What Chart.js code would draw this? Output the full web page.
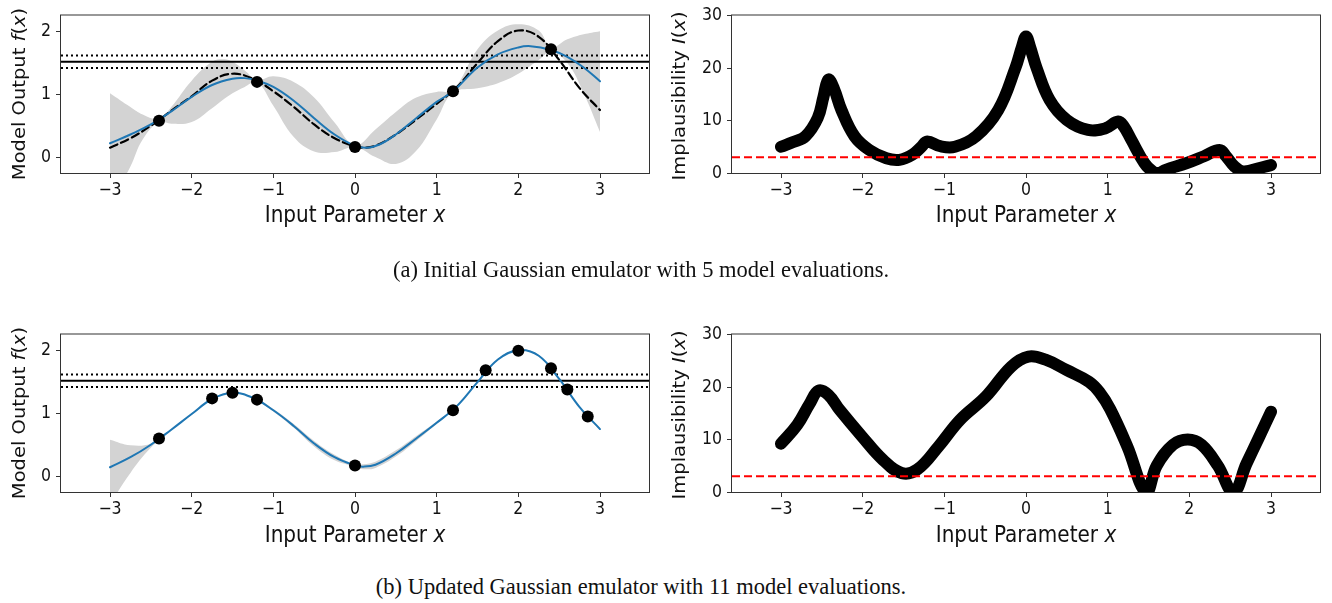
<!DOCTYPE html>
<html>
<head>
<meta charset="utf-8">
<script src="https://cdn.jsdelivr.net/npm/chart.js@4.4.1/dist/chart.umd.min.js"></script>
<style>
  body { margin: 0; background: #fff; }
  #page { position: relative; width: 1332px; height: 603px; overflow: hidden; }
  canvas { position: absolute; }
  .xt, .yt, .cap { position: absolute; white-space: nowrap; color: #111; }
  .xt { font: 23px 'DejaVu Sans'; transform: translate(-50%, -50%) scaleX(0.87); }
  .yt { font: 19.5px 'DejaVu Sans'; transform: translate(-50%, -50%) rotate(-90deg) scaleY(0.87); }
  .cap { font: 22.5px 'Liberation Serif'; transform: translate(-50%, -50%); }
  i { font-style: italic; }
</style>
</head>
<body>
<div id="page">
  <canvas id="tl" width="660" height="240" style="left:0;top:0"></canvas>
  <canvas id="tr" width="672" height="240" style="left:660px;top:0"></canvas>
  <canvas id="bl" width="660" height="240" style="left:0;top:319px"></canvas>
  <canvas id="br" width="672" height="240" style="left:660px;top:319px"></canvas>

  <div class="xt" style="left:355px;top:214px">Input Parameter <i>x</i></div>
  <div class="xt" style="left:1026px;top:214px">Input Parameter <i>x</i></div>
  <div class="xt" style="left:355px;top:534px">Input Parameter <i>x</i></div>
  <div class="xt" style="left:1026px;top:534px">Input Parameter <i>x</i></div>
  <div class="yt" style="left:19px;top:94px">Model Output <i>f</i>(<i>x</i>)</div>
  <div class="yt" style="left:679px;top:96px">Implausibility <i>I</i>(<i>x</i>)</div>
  <div class="yt" style="left:19px;top:413px">Model Output <i>f</i>(<i>x</i>)</div>
  <div class="yt" style="left:679px;top:415px">Implausibility <i>I</i>(<i>x</i>)</div>

  <div class="cap" style="left:641px;top:270px">(a) Initial Gaussian emulator with 5 model evaluations.</div>
  <div class="cap" style="left:641px;top:587px">(b) Updated Gaussian emulator with 11 model evaluations.</div>
</div>
<script>
// ticks
const xTicks = [-3, -2, -1, 0, 1, 2, 3];
const fTicks = [0, 1, 2];
const iTicks = [0, 10, 20, 30];

// observation and its bounds, implausibility cut-off
const obsLines = [1.52, 1.62, 1.42];
const cutoff = 3;

// true model (dashed)
const trueX = [-3, -2.75, -2.5, -2.25, -2, -1.75, -1.5, -1.25, -1, -0.75, -0.5, -0.25, 0, 0.1, 0.25, 0.5, 0.75, 1, 1.25, 1.5, 1.75, 2, 2.25, 2.5, 2.75, 3];
const trueY = [0.15, 0.30, 0.50, 0.74, 0.97, 1.22, 1.33, 1.25, 1.05, 0.80, 0.52, 0.30, 0.17, 0.15, 0.18, 0.36, 0.60, 0.85, 1.12, 1.50, 1.85, 2.02, 1.92, 1.55, 1.10, 0.75];

// (a) emulator with 5 runs
const runsX1 = [-2.4, -1.2, 0, 1.2, 2.4];
const runsY1 = [0.58, 1.20, 0.16, 1.05, 1.72];
const meanX1 = [-3, -2.75, -2.5, -2.25, -2, -1.75, -1.5, -1.35, -1.2, -1, -0.75, -0.5, -0.25, 0, 0.15, 0.3, 0.5, 0.75, 1, 1.2, 1.5, 1.75, 2, 2.15, 2.4, 2.6, 2.8, 3];
const meanY1 = [0.22, 0.36, 0.52, 0.73, 0.96, 1.15, 1.25, 1.26, 1.22, 1.12, 0.90, 0.62, 0.36, 0.18, 0.15, 0.20, 0.36, 0.62, 0.88, 1.05, 1.43, 1.64, 1.75, 1.77, 1.71, 1.60, 1.43, 1.21];
const bandX1 = [-3, -2.75, -2.6, -2.4, -2.25, -2, -1.75, -1.6, -1.5, -1.35, -1.2, -1, -0.75, -0.5, -0.25, 0, 0.25, 0.5, 0.75, 1, 1.2, 1.5, 1.75, 2, 2.25, 2.4, 2.6, 2.8, 3];
const upperY1 = [1.02, 0.80, 0.68, 0.61, 0.80, 1.22, 1.52, 1.56, 1.52, 1.38, 1.23, 1.29, 1.20, 0.95, 0.55, 0.19, 0.44, 0.72, 0.95, 1.04, 1.07, 1.72, 2.02, 2.12, 2.02, 1.75, 1.88, 1.96, 2.01];
const lowerY1 = [-0.75, -0.15, 0.28, 0.56, 0.53, 0.56, 0.78, 0.93, 1.02, 1.12, 1.20, 0.82, 0.32, 0.09, 0.08, 0.16, 0.00, -0.11, 0.10, 0.60, 1.03, 1.10, 1.18, 1.33, 1.55, 1.68, 1.50, 1.02, 0.40];
const implX1 = [-3, -2.85, -2.7, -2.55, -2.48, -2.42, -2.35, -2.26, -2.1, -1.92, -1.71, -1.55, -1.39, -1.28, -1.21, -1.05, -0.87, -0.61, -0.34, -0.13, -0.05, 0, 0.05, 0.13, 0.29, 0.5, 0.76, 0.97, 1.13, 1.2, 1.29, 1.45, 1.55, 1.62, 1.71, 1.97, 2.18, 2.37, 2.45, 2.55, 2.66, 2.87, 3];
const implY1 = [5.0, 5.9, 7.0, 10.5, 14.5, 17.8, 16.0, 12.0, 7.0, 4.4, 2.8, 2.5, 3.5, 5.0, 6.0, 5.1, 5.0, 7.0, 12.0, 20.0, 24.0, 26.0, 24.0, 20.0, 13.9, 10.1, 8.2, 8.5, 9.8, 8.8, 6.3, 1.9, 0.3, 0.0, 0.6, 1.9, 3.2, 4.4, 3.2, 1.3, 0.3, 1.0, 1.5];

// (b) emulator with 11 runs
const runsX2 = [-2.4, -1.75, -1.5, -1.2, 0, 1.2, 1.6, 2.0, 2.4, 2.6, 2.85];
const runsY2 = [0.60, 1.24, 1.33, 1.22, 0.17, 1.05, 1.69, 2.00, 1.72, 1.38, 0.95];
const meanX2 = [-3, -2.75, -2.5, -2.25, -2, -1.75, -1.5, -1.25, -1, -0.75, -0.5, -0.25, 0, 0.1, 0.25, 0.5, 0.75, 1, 1.25, 1.5, 1.75, 2, 2.25, 2.5, 2.75, 3];
const meanY2 = [0.14, 0.30, 0.50, 0.74, 0.99, 1.23, 1.33, 1.25, 1.05, 0.80, 0.52, 0.30, 0.17, 0.15, 0.18, 0.36, 0.60, 0.85, 1.12, 1.50, 1.86, 2.01, 1.92, 1.55, 1.10, 0.75];
const upperY2 = [0.58, 0.49, 0.52, 0.75, 1.00, 1.24, 1.34, 1.26, 1.07, 0.83, 0.56, 0.34, 0.19, 0.19, 0.23, 0.41, 0.64, 0.87, 1.13, 1.51, 1.87, 2.02, 1.93, 1.56, 1.11, 0.77];
const lowerY2 = [-0.45, 0.05, 0.45, 0.73, 0.98, 1.22, 1.32, 1.24, 1.03, 0.77, 0.47, 0.25, 0.15, 0.11, 0.13, 0.31, 0.56, 0.83, 1.11, 1.49, 1.85, 2.00, 1.91, 1.54, 1.09, 0.73];
const implX2 = [-3, -2.8, -2.65, -2.54, -2.42, -2.28, -2.01, -1.75, -1.52, -1.33, -1.07, -0.81, -0.49, -0.18, 0.03, 0.24, 0.5, 0.77, 0.9, 1.03, 1.24, 1.47, 1.6, 1.8, 1.98, 2.15, 2.35, 2.54, 2.7, 2.85, 3];
const implY2 = [9.2, 12.8, 16.8, 19.3, 18.5, 15.6, 10.6, 6.1, 3.6, 4.3, 8.7, 13.7, 18.2, 23.9, 25.8, 25.2, 23.2, 21.0, 19.0, 15.8, 8.7, 0.0, 5.0, 9.0, 10.0, 9.0, 5.0, 0.0, 5.4, 10.3, 15.3];

const tickFont = { family: "'DejaVu Sans Condensed', 'DejaVu Sans', sans-serif", size: 17.5 };
const frameColor = '#333';

Chart.defaults.elements.line.capBezierPoints = false;

function pts(xs, ys) {
    return xs.map((x, i) => ({ x: x, y: ys[i] }));
}

function hline(y, color, dash) {
    return {
        data: [{ x: -3.6, y: y }, { x: 3.6, y: y }],
        showLine: true, borderColor: color, borderWidth: 2, borderDash: dash,
        pointRadius: 0, clip: 0, order: 3
    };
}

function curve(xs, ys, color, width, dash, order) {
    return {
        data: pts(xs, ys), showLine: true, borderColor: color, borderWidth: width,
        borderDash: dash || [], pointRadius: 0, tension: 0.4,
        borderCapStyle: 'round', borderJoinStyle: 'round', clip: 0, order: order
    };
}

// draws the full box round the axes, like matplotlib spines
const framePlugin = {
    id: 'frame',
    afterDraw(chart) {
        const a = chart.chartArea, ctx = chart.ctx;
        ctx.save();
        ctx.strokeStyle = frameColor;
        ctx.lineWidth = 1;
        ctx.strokeRect(a.left - 0.5, a.top - 0.5, a.right - a.left + 1, a.bottom - a.top + 1);
        ctx.restore();
    }
};

function makeChart(id, datasets, yMin, yMax, yTicks, yWidth, padRight) {
    const fixTicks = list => scale => { scale.ticks = list.map(v => ({ value: v })); };
    new Chart(document.getElementById(id), {
        type: 'scatter',
        data: { datasets: datasets },
        options: {
            responsive: false,
            animation: false,
            events: [],
            layout: { padding: { top: 15, right: padRight, left: 0, bottom: 0 } },
            plugins: { legend: { display: false }, tooltip: { enabled: false } },
            scales: {
                x: {
                    type: 'linear', min: -3.6, max: 3.6,
                    afterBuildTicks: fixTicks(xTicks),
                    afterFit: s => { s.height = 67; },
                    border: { display: false },
                    grid: { drawOnChartArea: false, drawTicks: true, tickLength: 5, color: frameColor },
                    ticks: { font: tickFont, color: '#111', padding: 2, maxRotation: 0,
                             callback: v => String(v).replace('-', '\u2212') }
                },
                y: {
                    type: 'linear', min: yMin, max: yMax,
                    afterBuildTicks: fixTicks(yTicks),
                    afterFit: s => { s.width = yWidth; },
                    border: { display: false },
                    grid: { drawOnChartArea: false, drawTicks: true, tickLength: 5, color: frameColor },
                    ticks: { font: tickFont, color: '#111', padding: 5 }
                }
            }
        },
        plugins: [framePlugin]
    });
}

function emulatorSets(runsX, runsY, meanX, meanY, bandX, upper, lower, withTrue) {
    const sets = [
        { data: pts(runsX, runsY), pointRadius: 6, backgroundColor: '#000', borderWidth: 0, clip: 0, order: 0 },
        curve(meanX, meanY, '#1f77b4', 2, [], 1)
    ];
    if (withTrue) sets.push(curve(trueX, trueY, '#000', 2.2, [8, 4], 2));
    sets.push(hline(obsLines[0], '#000', []));
    sets.push(hline(obsLines[1], '#000', [2, 3]));
    sets.push(hline(obsLines[2], '#000', [2, 3]));
    sets.push({ data: pts(bandX, lower), showLine: true, borderWidth: 0, pointRadius: 0,
                tension: 0.4, fill: false, clip: 0, order: 6 });
    sets.push({ data: pts(bandX, upper), showLine: true, borderWidth: 0, pointRadius: 0,
                tension: 0.4, fill: '-1', backgroundColor: '#d3d3d3', clip: 0, order: 5 });
    return sets;
}

function implSets(xs, ys) {
    return [
        hline(cutoff, '#ff0000', [8, 4]),
        curve(xs, ys, '#000', 12, [], 4)
    ];
}

makeChart('tl', emulatorSets(runsX1, runsY1, meanX1, meanY1, bandX1, upperY1, lowerY1, true), -0.255, 2.26, fTicks, 61, 11);
makeChart('tr', implSets(implX1, implY1), 0, 30, iTicks, 72, 12);
makeChart('bl', emulatorSets(runsX2, runsY2, meanX2, meanY2, meanX2, upperY2, lowerY2, false), -0.255, 2.26, fTicks, 61, 11);
makeChart('br', implSets(implX2, implY2), 0, 30, iTicks, 72, 12);
</script>
</body>
</html>
